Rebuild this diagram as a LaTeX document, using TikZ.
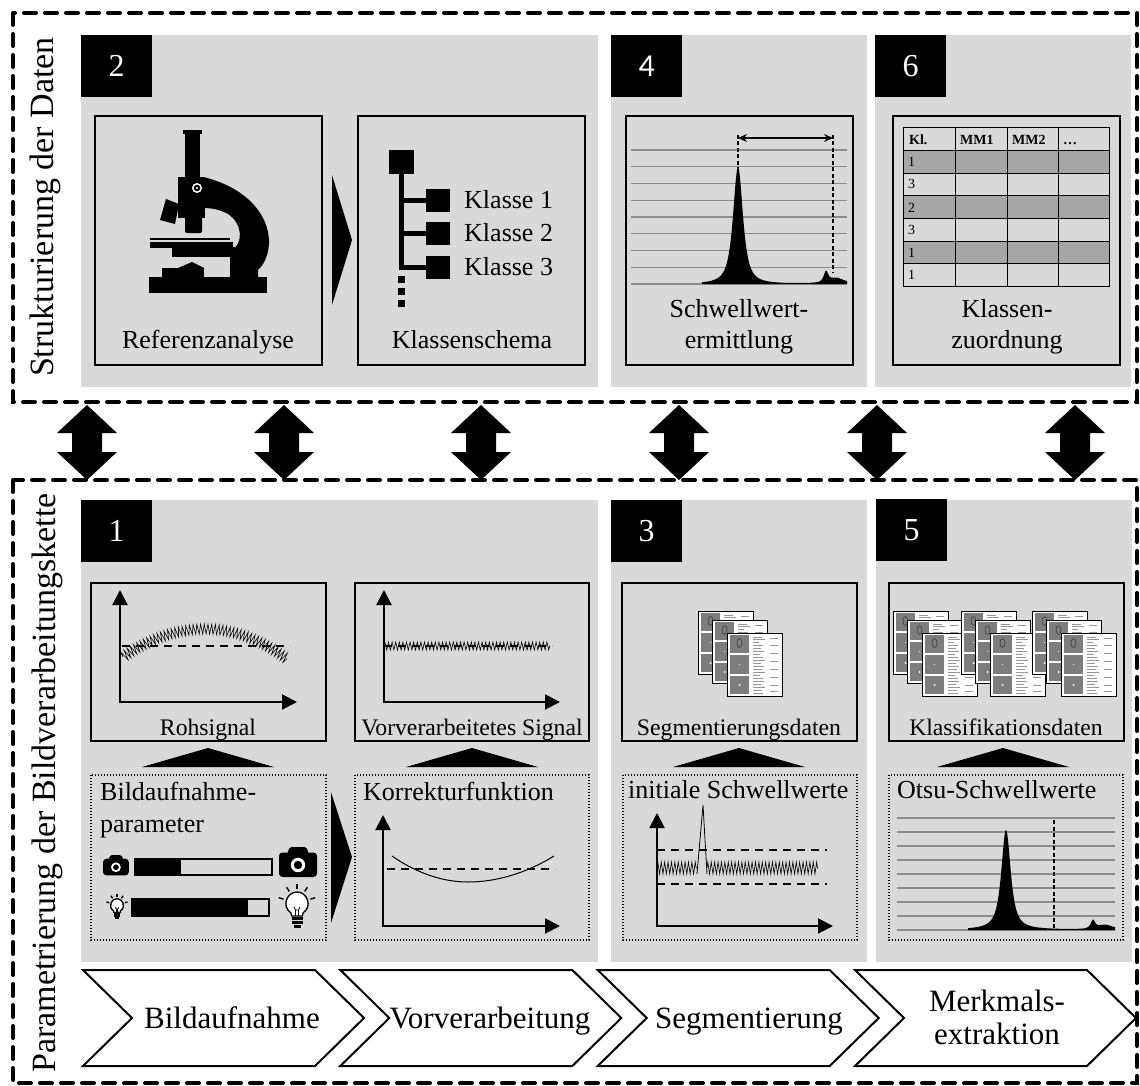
\documentclass[tikz,border=0pt]{standalone}
\usepackage{fontspec}
\setmainfont{Liberation Serif}
\newfontfamily\numsans{Carlito}
\usetikzlibrary{arrows.meta,decorations.pathmorphing,calc}

\definecolor{panelgray}{RGB}{217,217,217}
\definecolor{rowgray}{RGB}{166,166,166}
\definecolor{gridgray}{RGB}{140,140,140}
\definecolor{tilegray}{RGB}{125,125,125}
\definecolor{textgray}{RGB}{150,150,150}

\tikzset{
  frame/.style={line width=4pt, dash pattern=on 12pt off 9pt, line cap=round},
  numbox/.style={fill=black, text=white, font=\fontsize{32}{32}\selectfont,
    minimum width=71pt, minimum height=62pt, inner sep=0pt, anchor=north west},
  lbl/.style={font=\fontsize{26}{31}\selectfont, inner sep=0pt},
  sublbl/.style={font=\fontsize{23.7}{28}\selectfont, inner sep=0pt},
  steplbl/.style={font=\fontsize{31}{33}\selectfont, inner sep=0pt},
  vtitle/.style={font=\fontsize{34}{36}\selectfont, rotate=90, inner sep=0pt},
  tabhead/.style={font=\fontsize{14}{14}\selectfont\bfseries, anchor=base west, inner sep=0pt},
  tabcell/.style={font=\fontsize{14}{14}\selectfont, anchor=base west, inner sep=0pt},
  axes/.style={line width=2pt, {Triangle[length=15pt,width=15pt]}-{Triangle[length=15pt,width=15pt]}},
  refline/.style={line width=2.5pt, dash pattern=on 8pt off 6pt},
  signal/.style={line width=0.6pt, decorate,
    decoration={zigzag, segment length=3.6pt, amplitude=4pt}},
  gridline/.style={gridgray, line width=1.2pt},
  marker/.style={line width=1.3pt, dash pattern=on 4pt off 2.5pt},
  stepbox/.style={draw, line width=2pt, fill=white},
  dotbox/.style={line width=1.4pt, dash pattern=on 1.4pt off 1.6pt},
  boxline/.style={line width=2pt},
  docpage/.pic={
    \filldraw[fill=white, line width=0.9pt] (0,0) rectangle (55,63);
    \fill[tilegray] (3,2) rectangle (22,20);
    \fill[tilegray] (3,22) rectangle (22,41);
    \fill[tilegray] (3,43) rectangle (22,61);
    \draw[black!75, line width=0.6pt] (12.5,10) ellipse [x radius=2.5, y radius=4.5];
    \fill[white!80!gray] (12.5,31.5) circle (0.7);
    \fill[white] (12.5,52) circle (1);
    \foreach \yy/\ll in {4/9,6/12,9/6,12/10,15/8,18/11,21/7,24/10,27/12,30/8,33/11,
                         36/9,39/12,42/7,45/10,48/11,51/8,54/12,57/9,60/10}
      \draw[textgray, line width=0.5pt] (26,\yy) -- ++(\ll,0);
    \foreach \yy in {5,12,20,28,36,44,52,58}
      \draw[textgray, line width=0.5pt] (43,\yy) -- ++(8,0);
  },
  camera/.pic={
    \fill[rounded corners=1.5pt] (8,6.5) -- (11,0) -- (27,0) -- (30,6.5) -- cycle;
    \fill[rounded corners=3.5pt] (0,5.5) rectangle (38,30);
    \fill[white] (19,18) circle (7.2);
    \fill (19,18) circle (4.2);
  },
  bulb/.pic={
    \draw[line width=1.3pt, fill=white] (-6,10) .. controls (-16,3) and (-10,-11) .. (0,-11)
      .. controls (10,-11) and (16,3) .. (6,10) -- (5.5,13) -- (-5.5,13) -- cycle;
    \draw[line width=0.8pt] (-3,4) -- (-1.5,7) -- (1.5,7) -- (3,4);
    \draw[line width=0.8pt] (-1.5,7) -- (-1.5,13) (1.5,7) -- (1.5,13);
    \fill (-5.5,13.5) rectangle (5.5,16.5);
    \fill (-5.5,17.5) rectangle (5.5,20.5);
    \fill (-3.5,21.5) rectangle (3.5,24.5);
    \foreach \dx/\dy in {0/-1, -0.55/-0.83, 0.55/-0.83, -0.96/-0.28, 0.96/-0.28}
      \draw[line width=1.4pt] (14*\dx,14*\dy) -- (19*\dx,19*\dy);
  },
}

\begin{document}
\begin{tikzpicture}[x=1pt, y=-1pt,
  declare function={lor(\d,\w)=1/(1+(\d/\w)*(\d/\w));}]
\useasboundingbox (0,0) rectangle (1140,1086);

% ---------- grey panels ----------
\fill[panelgray] (81,35) rectangle (598,387);
\fill[panelgray] (611,35) rectangle (867,387);
\fill[panelgray] (875,35) rectangle (1131,387);
\fill[panelgray] (81,500) rectangle (598,962);
\fill[panelgray] (611,500) rectangle (867,962);
\fill[panelgray] (876,500) rectangle (1132,962);

% ---------- step numbers ----------
\node[numbox] (n2) at (81,35) {2};
\node[numbox, font=\fontsize{32}{32}\selectfont\numsans] (n4) at (611,35) {4};
\node[numbox] (n6) at (875,35) {6};
\node[numbox] (n1) at (81,500) {1};
\node[numbox] (n3) at (611,500) {3};
\node[numbox] (n5) at (876,499) {5};

% ---------- dashed frames and side titles ----------
\draw[frame] (13,13) rectangle (1137,402);
\draw[frame] (13,480) rectangle (1137,1083);
\node[vtitle] (title-top) at (45,207) {Strukturierung der Daten};
\node[vtitle] (title-bottom) at (47,783) {Parametrierung der Bildverarbeitungskette};

% ---------- exchange arrows between the two frames ----------
\foreach \i/\xx in {1/87,2/284,3/481,4/679,5/877,6/1075}{
  \coordinate (up\i) at (\xx,405);
  \coordinate (down\i) at (\xx,480);
  \fill[black] (up\i) -- ++(30,28) -- ++(-15,0) -- ++(0,19) -- ++(15,0)
    -- (down\i) -- ++(-30,-28) -- ++(15,0) -- ++(0,-19) -- ++(-15,0) -- cycle;
}

% ---------- panel 2: reference analysis and class scheme ----------
\draw[boxline] (95,116) rectangle (322,365);
\draw[boxline] (358,116) rectangle (585,365);
\node[lbl, anchor=base] (ref-lbl) at (208,348) {Referenzanalyse};
\node[lbl, anchor=base] (cls-lbl) at (472,348) {Klassenschema};
\fill (332,175) -- (352,240) -- (332,305) -- cycle;

% microscope
\fill (183,130) rectangle (202,134);
\fill (185,134) rectangle (200,178);
\fill (178,177) rectangle (205,218);
\fill[rounded corners=2pt] (185,216) rectangle (202,233);
\fill (166,199) -- (179,204) -- (175,224) -- (160,220) -- cycle;
\fill (203,177) .. controls (242,186) and (270,212) .. (269,244)
  .. controls (268,259) and (262,266) .. (258,270) -- (258,278) -- (230,278) -- (230,252)
  .. controls (244,244) and (243,224) .. (228,214)
  .. controls (219,209) and (210,208) .. (203,208) -- cycle;
\fill[white] (197,188) circle (5);
\fill (197,188) circle (3.3);
\fill[white] (197,188) circle (1.2);
\draw[line width=1.6pt] (150,239) -- (230,239);
\fill (150,242) rectangle (233,248);
\fill (172,247) rectangle (235,257);
\fill (162,268) rectangle (204,278);
\fill (178,268) -- (192,262) -- (204,268) -- cycle;
\fill (149,277) rectangle (267,293);

% class tree
\fill (389,150) rectangle (414,174);
\draw[line width=5pt] (401.5,172) -- (401.5,269.5);
\foreach \yy in {200.5,233.5,267}
  \draw[line width=5pt] (399,\yy) -- (428,\yy);
\fill (426,189) rectangle (450,212);
\fill (426,222) rectangle (450,245);
\fill (426,256) rectangle (450,279);
\foreach \yy in {276,288,300}
  \fill (398,\yy) rectangle (405,\yy+7);
\node[lbl, anchor=base west] (k1) at (464,208) {Klasse 1};
\node[lbl, anchor=base west] (k2) at (464,241) {Klasse 2};
\node[lbl, anchor=base west] (k3) at (464,275) {Klasse 3};

% ---------- panel 4: threshold determination ----------
\draw[boxline] (626,116) rectangle (853,365);
\foreach \i in {0,...,8}
  \draw[gridline] (631,{150+\i*16.75}) -- (847,{150+\i*16.75});
\fill (702,284) -- plot[domain=702:847, samples=300]
  (\x, {284 - 106*lor(\x-738,8.5)*lor(\x-738,8.5) - 11*lor(\x-738,14)
        - 10*lor(\x-826,4)*lor(\x-826,4) - 6*lor(\x-836,10)})
  -- (847,284) -- cycle;
\draw[marker] (738,135) -- (738,168);
\draw[marker] (833,135) -- (833,272);
\draw[line width=1.3pt, {Stealth[length=9pt,width=8pt]}-{Stealth[length=9pt,width=8pt]}]
  (738,138) -- (833,138);
\node[lbl, anchor=base] (thr-lbl1) at (739,317) {Schwellwert-};
\node[lbl, anchor=base] (thr-lbl2) at (739,348) {ermittlung};

% ---------- panel 6: class assignment table ----------
\draw[boxline] (893,116) rectangle (1120,365);
\foreach \yy in {151,196,241}
  \fill[rowgray] (903,\yy) rectangle (1109,\yy+22.5);
\draw[line width=1pt] (903,128) rectangle (1109,286);
\foreach \yy in {151,173.5,196,218.5,241,263.5}
  \draw[line width=1pt] (903,\yy) -- (1109,\yy);
\foreach \xx in {955,1007,1058}
  \draw[line width=1pt] (\xx,128) -- (\xx,286);
\node[tabhead] (h1) at (909,145) {Kl.};
\node[tabhead] (h2) at (960,145) {MM1};
\node[tabhead] (h3) at (1012,145) {MM2};
\node[tabhead] (h4) at (1063,145) {\dots};
\foreach \v/\yy [count=\r] in {1/167,3/189,2/212,3/234,1/257,1/279}
  \node[tabcell] (row\r) at (908,\yy) {\v};
\node[lbl, anchor=base] (asg-lbl1) at (1007,317) {Klassen-};
\node[lbl, anchor=base] (asg-lbl2) at (1007,348) {zuordnung};

% ---------- panel 1: image acquisition ----------
\draw[boxline] (91,583) rectangle (326,741);
\draw[boxline] (355,583) rectangle (589,741);
\draw[dotbox] (91,775) rectangle (326,940);
\draw[dotbox] (355,775) rectangle (589,940);

% raw signal
\draw[axes] (120,590) -- (120,702) -- (297,702);
\draw[refline] (122,646) -- (290,646);
\draw[signal, decoration={amplitude=5pt}] (123,657) parabola bend (205,629) (287,659);
\node[sublbl, anchor=base] (raw-lbl) at (208,735) {Rohsignal};

% preprocessed signal
\draw[axes] (384,590) -- (384,702) -- (560,702);
\draw[refline] (384,646) -- (552,646);
\draw[signal] (384,646) -- (550,646);
\node[sublbl, anchor=base] (pre-lbl) at (472,735) {Vorverarbeitetes Signal};

% acquisition parameters
\node[lbl, anchor=base west] (acq-lbl1) at (100,800) {Bildaufnahme-};
\node[lbl, anchor=base west] (acq-lbl2) at (100,832) {parameter};
\pic[scale=0.68] at (103,855) {camera};
\pic at (279,847) {camera};
\draw[line width=1.5pt] (135,859) rectangle (272,875);
\fill (135,859) rectangle (181,875);
\pic[scale=0.58] at (117,905) {bulb};
\pic at (297,903) {bulb};
\draw[line width=1.5pt] (132,899) rectangle (269,916);
\fill (132,899) rectangle (248,916);
\fill (331,792) -- (352,857) -- (331,923) -- cycle;

% correction function
\node[lbl, anchor=base west] (cor-lbl) at (363,800) {Korrekturfunktion};
\draw[axes] (383,815) -- (383,926) -- (560,926);
\draw[refline] (387,869) -- (555,869);
\draw[line width=1pt] (392,856) parabola bend (468,882) (554,856);

% ---------- panel 3: segmentation ----------
\draw[boxline] (622,583) rectangle (857,741);
\draw[dotbox] (623,775) rectangle (857,940);
\pic at (698,611) {docpage};
\pic at (712,620) {docpage};
\pic at (727,633) {docpage};
\node[sublbl, anchor=base] (seg-lbl) at (739,735) {Segmentierungsdaten};
\node[lbl, anchor=base west] (ini-lbl) at (628,798) {initiale Schwellwerte};
\draw[axes] (657,813) -- (657,926) -- (833,926);
\draw[refline] (657,850) -- (827,850);
\draw[refline] (657,884) -- (827,884);
\draw[signal, decoration={amplitude=6pt, segment length=3.4pt}] (657,868) -- (697,868);
\draw[line width=0.8pt] (697,874) -- (703,805) -- (707,874);
\draw[signal, decoration={amplitude=6pt, segment length=3.4pt}] (707,868) -- (818,868);

% ---------- panel 5: feature extraction ----------
\draw[boxline] (889,583) rectangle (1124,741);
\draw[dotbox] (889,775) rectangle (1123,940);
\foreach \sx in {893,961,1032}{
  \pic at (\sx,611) {docpage};
  \pic at (\sx+14,620) {docpage};
  \pic at (\sx+29,633) {docpage};
}
\node[sublbl, anchor=base] (cls-data-lbl) at (1006,735) {Klassifikationsdaten};
\node[lbl, anchor=base west] (otsu-lbl) at (897,798) {Otsu-Schwellwerte};
\foreach \i in {0,...,8}
  \draw[gridline] (897,{818+\i*14}) -- (1115,{818+\i*14});
\fill (968,930) -- plot[domain=968:1115, samples=300]
  (\x, {930 - 88*lor(\x-1006,8)*lor(\x-1006,8) - 10*lor(\x-1006,12)
        - 2*lor(\x-1006,30)
        - 8*lor(\x-1093,4)*lor(\x-1093,4) - 5*lor(\x-1105,10)})
  -- (1115,930) -- cycle;
\draw[marker] (1054,820) -- (1054,930);

% ---------- links from parameters to results ----------
\foreach \c in {208,472,739,1003}
  \fill (\c,748) -- (\c+66,767) -- (\c-66,767) -- cycle;

% ---------- process chain ----------
\foreach \L in {83,340.3,597.7,855}
  \draw[stepbox] (\L,970) -- (\L+232,970) -- (\L+281,1018) -- (\L+232,1066)
    -- (\L,1066) -- (\L+49,1018) -- cycle;
\node[steplbl, anchor=base] (s1) at (232,1028) {Bildaufnahme};
\node[steplbl, anchor=base] (s2) at (490,1028) {Vorverarbeitung};
\node[steplbl, anchor=base] (s3) at (749,1028) {Segmentierung};
\node[steplbl, anchor=base] (s4a) at (997,1011) {Merkmals-};
\node[steplbl, anchor=base] (s4b) at (997,1044) {extraktion};
\end{tikzpicture}
\end{document}
